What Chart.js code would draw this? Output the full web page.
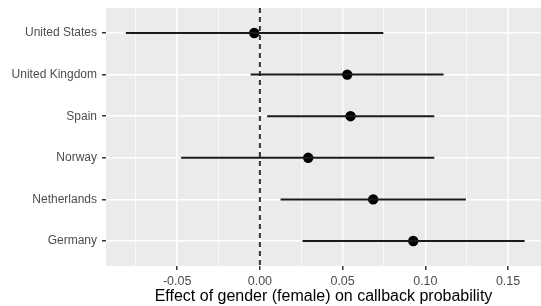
<!DOCTYPE html>
<html>
<head>
<meta charset="utf-8">
<script src="https://cdn.jsdelivr.net/npm/chart.js@4.4.1/dist/chart.umd.min.js"></script>
<style>
  html, body { margin: 0; padding: 0; background: #fff; }
  #wrap { width: 541px; height: 306px; }
</style>
</head>
<body>
<div id="wrap"><canvas id="myChart"></canvas></div>
<script>
// Data (point estimate and interval per country)
const countries = ["United States", "United Kingdom", "Spain", "Norway", "Netherlands", "Germany"];
const estimates = [-0.0034, 0.0528, 0.0548, 0.0292, 0.0685, 0.0927];
const lower = [-0.081, -0.0056, 0.0044, -0.0476, 0.0125, 0.0258];
const upper = [0.0746, 0.111, 0.1054, 0.1054, 0.1245, 0.160];
const xTicks = [-0.075, -0.05, -0.025, 0, 0.025, 0.05, 0.075, 0.1, 0.125, 0.15];
const xLabels = ["", "-0.05", "", "0.00", "", "0.05", "", "0.10", "", "0.15"];
const refLine = 0; // dashed line at zero effect

const ctx = document.getElementById('myChart');
const fontFam = "'Liberation Sans', Arial, sans-serif";

// grey panel background like ggplot
const panelBg = {
  id: 'panelBg',
  beforeDraw(chart) {
    const a = chart.chartArea;
    const c = chart.ctx;
    c.save();
    c.fillStyle = '#ebebeb';
    c.fillRect(a.left, a.top, a.right - a.left, a.bottom - a.top);
    c.restore();
  }
};

// one line dataset per interval
const intervalSets = countries.map((name, i) => ({
  type: 'line',
  data: [{ x: lower[i], y: i + 1 }, { x: upper[i], y: i + 1 }],
  borderColor: '#1a1a1a',
  borderWidth: 2,
  pointRadius: 0,
  showLine: true
}));

function isMajor(v) {
  return xTicks.indexOf(v) >= 0 && xLabels[xTicks.indexOf(v)] !== "";
}

new Chart(ctx, {
  type: 'scatter',
  data: {
    datasets: [
      ...intervalSets,
      {
        type: 'line',
        data: [{ x: refLine, y: 0.4 }, { x: refLine, y: 6.6 }],
        borderColor: '#333',
        borderWidth: 2,
        borderDash: [5, 4],
        pointRadius: 0,
        showLine: true
      },
      {
        data: estimates.map((v, i) => ({ x: v, y: i + 1 })),
        backgroundColor: '#000',
        borderColor: '#000',
        pointRadius: 5.2,
        borderWidth: 0
      }
    ]
  },
  options: {
    responsive: true,
    maintainAspectRatio: false,
    animation: false,
    layout: { autoPadding: false, padding: { top: 8, right: 0, left: 0, bottom: 0 } },
    plugins: {
      legend: { display: false },
      tooltip: { enabled: false }
    },
    scales: {
      x: {
        type: 'linear',
        min: -0.093,
        max: 0.1699,
        afterBuildTicks: scale => { scale.ticks = xTicks.map(v => ({ value: v })); },
        afterFit: scale => {
          scale.height = 40;
          scale.paddingLeft = 0;
          scale.paddingRight = 0;
        },
        border: { display: false },
        grid: {
          color: '#ffffff',
          lineWidth: c => isMajor(c.tick.value) ? 1.5 : 0.7,
          tickColor: c => isMajor(c.tick.value) ? '#333333' : 'rgba(0,0,0,0)',
          tickLength: 4,
          drawTicks: true
        },
        ticks: {
          autoSkip: false,
          maxRotation: 0,
          padding: 4,
          color: '#4d4d4d',
          font: { family: fontFam, size: 12.5 },
          callback: v => xLabels[xTicks.indexOf(v)] || ""
        },
        title: {
          display: true,
          text: 'Effect of gender (female) on callback probability',
          color: '#000',
          font: { family: fontFam, size: 16 },
          padding: { top: 0, bottom: 0 }
        }
      },
      y: {
        type: 'linear',
        reverse: true,
        min: 0.4,
        max: 6.6,
        afterBuildTicks: scale => { scale.ticks = countries.map((c, i) => ({ value: i + 1 })); },
        afterFit: scale => {
          scale.width = 106;
          scale.paddingTop = 0;
          scale.paddingBottom = 0;
        },
        border: { display: false },
        grid: {
          color: '#ffffff',
          lineWidth: 1.5,
          tickColor: '#333333',
          tickLength: 4
        },
        ticks: {
          autoSkip: false,
          padding: 5,
          color: '#4d4d4d',
          font: { family: fontFam, size: 12 },
          callback: v => countries[v - 1]
        }
      }
    }
  },
  plugins: [panelBg]
});
</script>
</body>
</html>
